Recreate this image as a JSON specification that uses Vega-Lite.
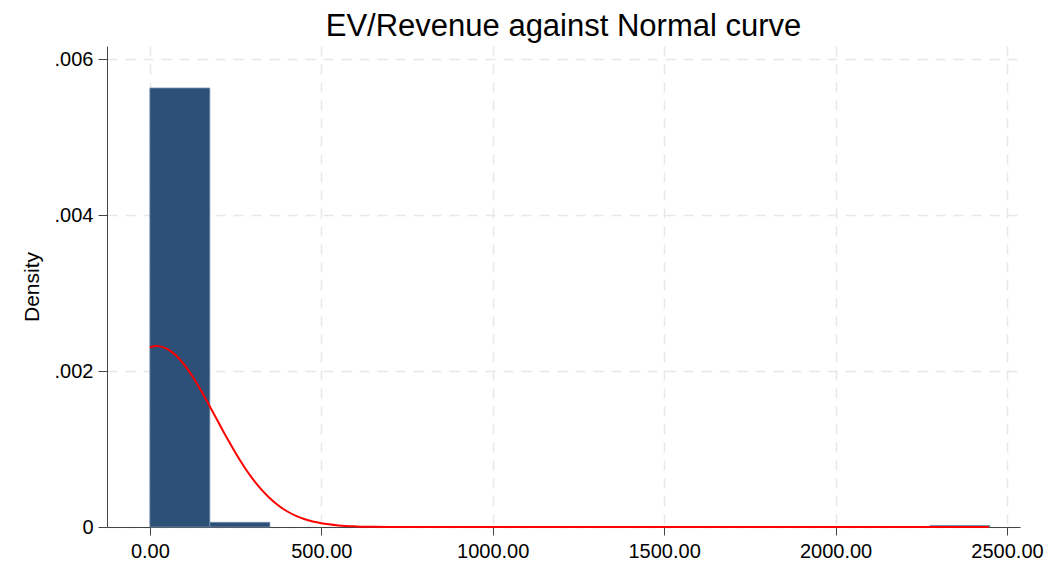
{
  "$schema": "https://vega.github.io/schema/vega-lite/v6.json",
  "width": 913,
  "height": 481,
  "autosize": {"type": "none"},
  "padding": {"left": 107, "top": 46, "right": 32, "bottom": 42},
  "background": "white",
  "config": {
    "view": {"stroke": null},
    "font": "Liberation Sans",
    "axis": {
      "labelFont": "Liberation Sans",
      "titleFont": "Liberation Sans",
      "labelColor": "#000000",
      "titleColor": "#000000",
      "domainColor": "#444444",
      "tickColor": "#444444",
      "gridColor": "#e8e8e8",
      "gridDash": [10, 8],
      "gridWidth": 1.5
    }
  },
  "title": {
    "text": "EV/Revenue against Normal curve",
    "fontSize": 31,
    "fontWeight": "normal",
    "font": "Liberation Sans",
    "color": "#000000",
    "anchor": "middle",
    "offset": 3
  },
  "layer": [
    {
      "data": {
        "values": [
          {"bin_start": 0, "bin_end": 175, "density": 0.005628},
          {"bin_start": 175, "bin_end": 350, "density": 0.00006},
          {"bin_start": 2275, "bin_end": 2450, "density": 0.00002}
        ]
      },
      "mark": {"type": "bar", "color": "#2d5079", "stroke": "#7590ad", "strokeWidth": 0.8},
      "encoding": {
        "x": {
          "field": "bin_start",
          "type": "quantitative",
          "scale": {"domain": [-125, 2538], "nice": false, "zero": false},
          "axis": {
            "title": null,
            "values": [0, 500, 1000, 1500, 2000, 2500],
            "format": ".2f",
            "labelFontSize": 20,
            "tickSize": 8,
            "labelPadding": 6,
            "grid": true
          }
        },
        "x2": {"field": "bin_end"},
        "y": {
          "field": "density",
          "type": "quantitative",
          "scale": {"domain": [0, 0.006167], "nice": false},
          "axis": {
            "title": "Density",
            "titleFontSize": 21,
            "titleFontWeight": "normal",
            "titlePadding": 12,
            "values": [0, 0.002, 0.004, 0.006],
            "labelExpr": "datum.value == 0 ? '0' : replace(format(datum.value, '.3f'), '0.', '.')",
            "labelFontSize": 20,
            "tickSize": 9,
            "labelPadding": 5,
            "grid": true
          }
        },
        "y2": {"datum": 0}
      }
    },
    {
      "data": {
        "values": [
          {"x": 0, "pdf": 0.002304},
          {"x": 20, "pdf": 0.00232},
          {"x": 25, "pdf": 0.002319},
          {"x": 50, "pdf": 0.002285},
          {"x": 75, "pdf": 0.002204},
          {"x": 100, "pdf": 0.002082},
          {"x": 125, "pdf": 0.001926},
          {"x": 150, "pdf": 0.001744},
          {"x": 175, "pdf": 0.001546},
          {"x": 200, "pdf": 0.001342},
          {"x": 225, "pdf": 0.00114},
          {"x": 250, "pdf": 0.000949},
          {"x": 275, "pdf": 0.000773},
          {"x": 300, "pdf": 0.000617},
          {"x": 325, "pdf": 0.000482},
          {"x": 350, "pdf": 0.000368},
          {"x": 375, "pdf": 0.000276},
          {"x": 400, "pdf": 0.000202},
          {"x": 425, "pdf": 0.000145},
          {"x": 450, "pdf": 0.000102},
          {"x": 475, "pdf": 0.000070},
          {"x": 500, "pdf": 0.0000473},
          {"x": 550, "pdf": 0.0000201},
          {"x": 600, "pdf": 0.0000079},
          {"x": 650, "pdf": 0.0000028},
          {"x": 700, "pdf": 0.0000009},
          {"x": 800, "pdf": 0.0000001},
          {"x": 1000, "pdf": 0},
          {"x": 1500, "pdf": 0},
          {"x": 2000, "pdf": 0},
          {"x": 2447, "pdf": 0}
        ]
      },
      "mark": {"type": "line", "color": "#ff0000", "strokeWidth": 2, "interpolate": "monotone"},
      "encoding": {
        "x": {"field": "x", "type": "quantitative"},
        "y": {"field": "pdf", "type": "quantitative"}
      }
    }
  ]
}
